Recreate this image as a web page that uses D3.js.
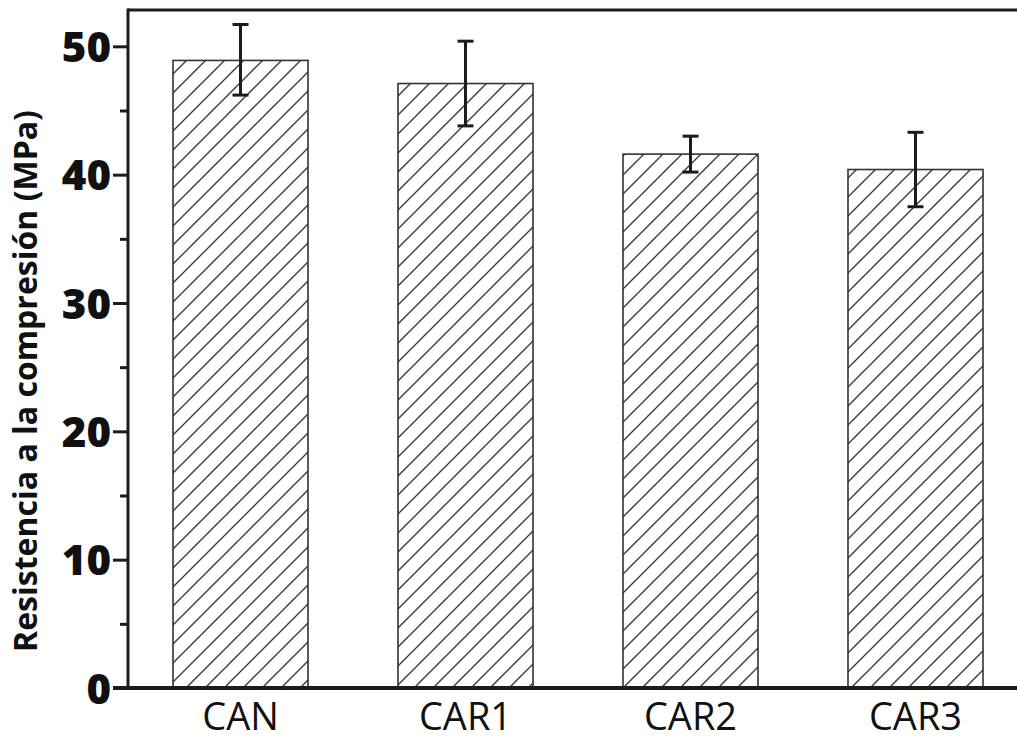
<!DOCTYPE html>
<html>
<head>
<meta charset="utf-8">
<script src="https://cdn.jsdelivr.net/npm/d3@7"></script>
<style>
  html, body { margin: 0; padding: 0; background: #fff; }
  svg { display: block; }
</style>
</head>
<body>
<svg id="chart" width="1017" height="742"></svg>
<script>
// Compressive strength per mix, with standard deviation bounds
const categories = ["CAN", "CAR1", "CAR2", "CAR3"];
const strength = [48.9, 47.1, 41.6, 40.4];
const errUpper = [51.7, 50.4, 43.0, 43.3];
const errLower = [46.2, 43.8, 40.2, 37.5];
const yTicks = [0, 10, 20, 30, 40, 50];
const yMinorTicks = [5, 15, 25, 35, 45];
const yTitle = "Resistencia a la compresión (MPa)";

const svg = d3.select("#chart");
const W = 1017, H = 742;
const plot = { left: 128, top: 10, right: 1028, bottom: 688 };
const ink = "#1c1c1c";

const x = d3.scaleBand()
  .domain(categories)
  .range([plot.left, plot.right])
  .paddingInner(0.4)
  .paddingOuter(0.2);

const y = d3.scaleLinear()
  .domain([0, 52.83])
  .range([plot.bottom, plot.top]);

// Diagonal hatch fill
const hatch = 19;
const defs = svg.append("defs");
const pat = defs.append("pattern")
  .attr("id", "hatch")
  .attr("patternUnits", "userSpaceOnUse")
  .attr("width", hatch)
  .attr("height", hatch);
pat.append("rect").attr("width", hatch).attr("height", hatch).attr("fill", "#fff");
pat.append("path")
  .attr("d", `M0,${hatch} L${hatch},0 M${-hatch / 2},${hatch / 2} L${hatch / 2},${-hatch / 2} M${hatch / 2},${hatch * 1.5} L${hatch * 1.5},${hatch / 2}`)
  .attr("stroke", "#3a3a3a")
  .attr("stroke-width", 1.4);

// Bars
svg.append("g").selectAll("rect")
  .data(categories)
  .join("rect")
  .attr("x", d => x(d))
  .attr("y", (d, i) => y(strength[i]))
  .attr("width", x.bandwidth())
  .attr("height", (d, i) => y(0) - y(strength[i]))
  .attr("fill", "url(#hatch)")
  .attr("stroke", "#333")
  .attr("stroke-width", 1.6);

// Error bars
const capW = 16;
const eb = svg.append("g").attr("stroke", ink).attr("stroke-width", 3).attr("fill", "none");
categories.forEach((c, i) => {
  const cx = x(c) + x.bandwidth() / 2;
  eb.append("line").attr("x1", cx).attr("x2", cx).attr("y1", y(errUpper[i])).attr("y2", y(errLower[i]));
  eb.append("line").attr("x1", cx - capW / 2).attr("x2", cx + capW / 2).attr("y1", y(errUpper[i])).attr("y2", y(errUpper[i]));
  eb.append("line").attr("x1", cx - capW / 2).attr("x2", cx + capW / 2).attr("y1", y(errLower[i])).attr("y2", y(errLower[i]));
});

// Top frame line
svg.append("line")
  .attr("x1", plot.left).attr("x2", W)
  .attr("y1", plot.top).attr("y2", plot.top)
  .attr("stroke", ink).attr("stroke-width", 3);

// Left axis with major and minor ticks
const yAxis = svg.append("g")
  .attr("transform", `translate(${plot.left},0)`)
  .call(d3.axisLeft(y).tickValues(yTicks).tickSize(15).tickPadding(2).tickFormat(d3.format("d")));
yAxis.select(".domain").remove();
yAxis.selectAll(".tick line").attr("stroke", ink).attr("stroke-width", 3);
yAxis.selectAll(".tick text")
  .attr("fill", "#111")
  .style("font-family", "'Open Sans', sans-serif")
  .style("font-weight", 800)
  .style("font-size", "42px")
  .attr("dy", "0.36em");

const yMinor = svg.append("g")
  .attr("transform", `translate(${plot.left},0)`)
  .call(d3.axisLeft(y).tickValues(yMinorTicks).tickSize(8).tickFormat(""));
yMinor.select(".domain").remove();
yMinor.selectAll(".tick line").attr("stroke", ink).attr("stroke-width", 3);

svg.append("line")
  .attr("x1", plot.left).attr("x2", plot.left)
  .attr("y1", plot.top - 1.5).attr("y2", plot.bottom + 2)
  .attr("stroke", ink).attr("stroke-width", 3);

// Bottom axis with category labels
const xAxis = svg.append("g")
  .attr("transform", `translate(0,${plot.bottom})`)
  .call(d3.axisBottom(x).tickSize(0).tickPadding(0));
xAxis.select(".domain").remove();
xAxis.selectAll(".tick text")
  .attr("y", 42)
  .attr("dy", 0)
  .attr("fill", "#111")
  .style("font-family", "'Open Sans', sans-serif")
  .style("font-weight", 400)
  .style("font-size", "38px");

svg.append("line")
  .attr("x1", plot.left - 15).attr("x2", W)
  .attr("y1", plot.bottom).attr("y2", plot.bottom)
  .attr("stroke", ink).attr("stroke-width", 4);

// Y axis title
svg.append("text")
  .attr("transform", `translate(37,${(650 + 112) / 2}) rotate(-90)`)
  .attr("text-anchor", "middle")
  .attr("fill", "#111")
  .style("font-family", "'Open Sans', sans-serif")
  .style("font-weight", 700)
  .style("font-size", "32px")
  .text(yTitle);
</script>
</body>
</html>
